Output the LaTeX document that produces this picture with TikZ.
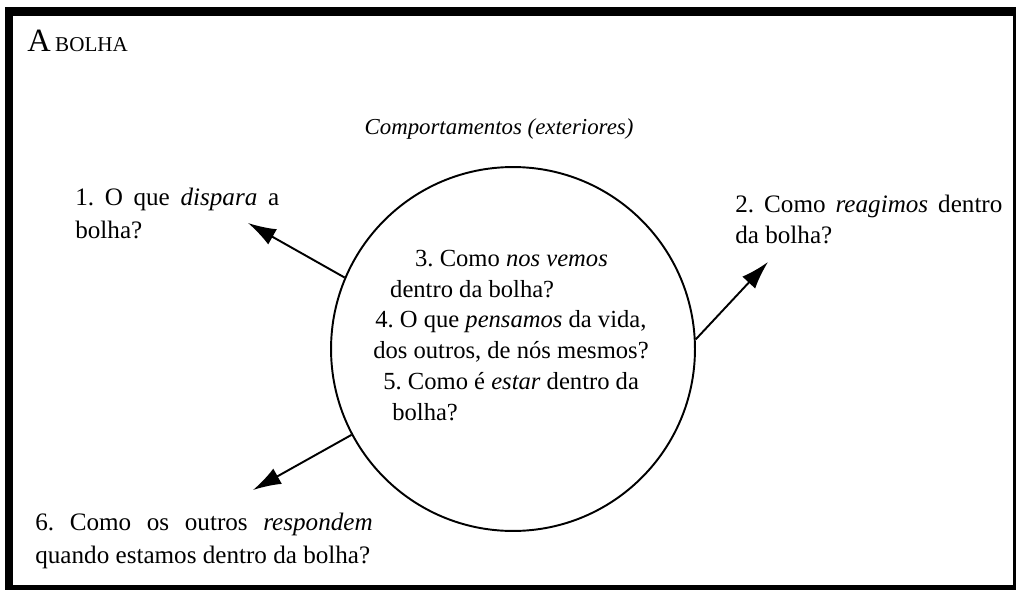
\documentclass[tikz,border=0pt]{standalone}
\usepackage{fontspec}
\setmainfont{Liberation Serif}
\usetikzlibrary{arrows.meta, positioning}
\frenchspacing

\begin{document}
\begin{tikzpicture}[
    x=0.02cm, y=-0.02cm,
    txt/.style={inner sep=0, anchor=base west, align=left},
    bubble/.style={circle, draw, line width=1.1pt, minimum size=7.28cm, inner sep=0},
    pointer/.style={line width=1.1pt, -{Latex[length=16pt, width=10pt]}}
]
    % frame
    \useasboundingbox (0,0) rectangle (1017,591);
    \fill[black] (5,7) rectangle (1016,590);
    \fill[white] (13,16) rectangle (1013,585);

    % titles
    \node[txt] (title) at (27,52) {{\fontsize{18.5}{20}\selectfont A} {\fontsize{12}{13}\selectfont BOLHA}};
    \node[txt, anchor=base] (outer) at (499,135) {\fontsize{13}{16}\selectfont\itshape Comportamentos (exteriores)};

    % the bubble (base = last line)
    \node[bubble] (bubble) at (513,349) {};
    \node[txt, font=\fontsize{14}{17.5}\selectfont] (inner) at (373,420) {%
        \hspace*{23.8pt}3. Como \textit{nos vemos}\\
        \hspace*{9.6pt}dentro da bolha?\\
        \hspace*{1.1pt}4. O que \textit{pensamos} da vida,\\
        dos outros, de nós mesmos?\\
        \hspace*{5.7pt}5. Como é \textit{estar} dentro da\\
        \hspace*{10.8pt}bolha?};

    % questions outside
    \node[txt, font=\fontsize{14.3}{18.7}\selectfont] (q1) at (75,238)
        {\makebox[116pt][s]{1. O que \textit{dispara} a}\\bolha?};
    \node[txt, font=\fontsize{14.3}{17.6}\selectfont] (q2) at (735,243)
        {\makebox[152pt][s]{2. Como \textit{reagimos} dentro}\\da bolha?};
    \node[txt, font=\fontsize{14.3}{18.7}\selectfont] (q6) at (35,563)
        {\makebox[192pt][s]{6. Como os outros \textit{respondem}}\\quando estamos dentro da bolha?};

    % arrows
    \coordinate (t1) at (248,223);
    \coordinate (t2) at (768,262);
    \coordinate (t6) at (253,490);
    \draw[pointer] (bubble.157) -- (t1);
    \draw[pointer] (bubble.3) -- (t2);
    \draw[pointer] (bubble.208) -- (t6);
\end{tikzpicture}
\end{document}
